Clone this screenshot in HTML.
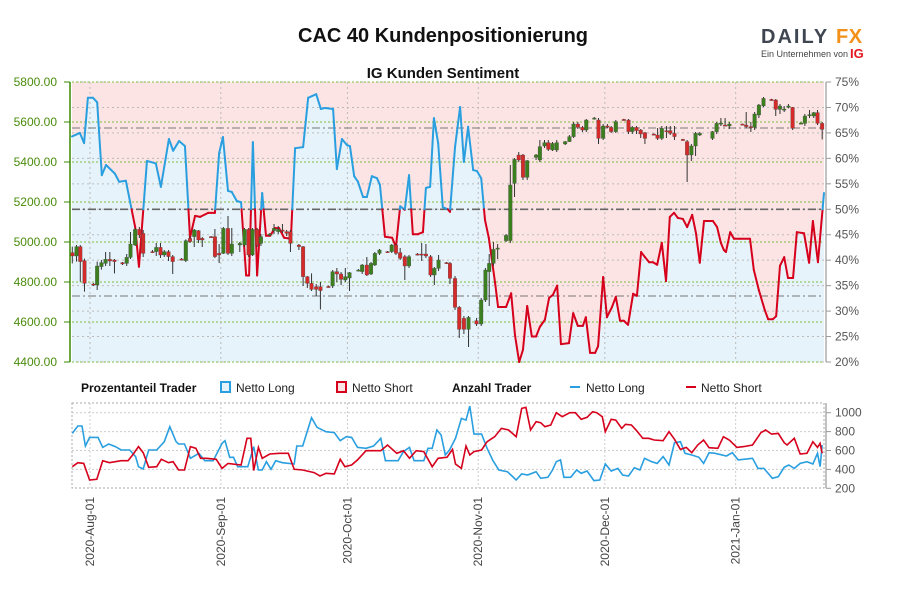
<!DOCTYPE html>
<html><head><meta charset="utf-8"><style>
body{margin:0;background:#fff;}
svg{display:block;font-family:"Liberation Sans",Arial,sans-serif;}
</style></head><body>
<svg id="c" width="900" height="600" viewBox="0 0 900 600" xmlns="http://www.w3.org/2000/svg">
<text x="443" y="42" text-anchor="middle" font-size="20" font-weight="bold" fill="#111">CAC 40 Kundenpositionierung</text>
<text x="443" y="78" text-anchor="middle" font-size="15" font-weight="bold" fill="#111">IG Kunden Sentiment</text>
<g>
<text x="761" y="43" font-size="20" font-weight="bold" fill="#3f4652" letter-spacing="2">DAILY</text>
<text x="836" y="43" font-size="20" font-weight="bold" fill="#f39019" letter-spacing="0.5">FX</text>
<text x="761" y="57" font-size="9" fill="#444">Ein Unternehmen von</text>
<text x="850" y="58" font-size="13" font-weight="bold" fill="#e3171e">IG</text>
</g>
<g id="main"></g>
<g id="legend">
<text x="81" y="392" font-size="12" font-weight="bold" fill="#111">Prozentanteil Trader</text>
<rect x="221" y="382" width="9" height="10" fill="#e6f3fb" stroke="#2a9fe0" stroke-width="2"/>
<text x="236" y="392" font-size="12" fill="#222">Netto Long</text>
<rect x="337" y="382" width="9" height="10" fill="#fce4e4" stroke="#d6001c" stroke-width="2"/>
<text x="352" y="392" font-size="12" fill="#222">Netto Short</text>
<text x="452" y="392" font-size="12" font-weight="bold" fill="#111">Anzahl Trader</text>
<line x1="570" y1="387" x2="580" y2="387" stroke="#2a9fe0" stroke-width="2"/>
<text x="586" y="392" font-size="12" fill="#222">Netto Long</text>
<line x1="686" y1="387" x2="696" y2="387" stroke="#d6001c" stroke-width="2"/>
<text x="701" y="392" font-size="12" fill="#222">Netto Short</text>
</g>
<g id="sub"></g>
</svg>
<script>
// ---- data ----
const monthLabels = ["2020-Aug-01","2020-Sep-01","2020-Oct-01","2020-Nov-01","2020-Dec-01","2021-Jan-01"];
const monthDays = [0,31,61,92,122,153];
const priceTicks = [4400,4600,4800,5000,5200,5400,5600,5800];
const pctTicks = [20,25,30,35,40,45,50,55,60,65,70,75];
const countTicks = [200,400,600,800,1000];
const refPrices = [5570,4730];
const sentDays = [-4.1,-2.4,-1.4,-0.5,0.7,1.7,2.8,3.8,5.9,6.9,8.5,10.7,11.6,13.5,15.6,16.8,18.7,19.7,21.1,22.5,23.7,24.9,26.1,28,29.6,30.6,31.5,32.7,33.6,34.8,35.8,37,37.7,38.6,39.6,40.8,41.7,42.7,43.8,44.8,46,47.6,48.6,50.5,51.7,53.6,54.7,55.7,57.6,58.5,59.7,60.9,61.6,62.6,63.5,64.7,65.6,66.8,68,68.7,69.9,71.6,72.5,73.5,74.6,75.6,76.5,77.7,78.9,79.6,80.6,81.5,82.5,83.6,84.8,85.3,86.5,87.7,88.6,89.6,90.8,91.7,92.7,93.6,94.5,96,96.7,98.6,99.8,100.7,101.7,102.6,103.6,104.7,105.7,106.6,107.8,108.8,109.7,110.7,111.6,113.5,114.5,115.6,116.8,117.5,118.5,119.7,120.4,121.6,122.5,123.7,124.6,125.6,126.5,127.5,128.7,129.6,130.6,131.5,132.5,133.4,134.4,135.5,136.5,137.4,138.4,139.3,140.5,141.5,142.7,143.6,144.5,145.5,146.4,147.6,148.6,149.5,150.2,150.7,151.7,152.6,154,156.4,157.3,158.5,159.9,160.7,161.8,162.6,163.5,164.5,165.4,166.6,167.5,169.2,170.4,171.3,172.5,173.5];
const sentLong = [64.3,65,63,71.9,71.9,71,56.7,58.7,57,55.4,55.6,46.5,38.7,59.5,59,54.4,63.8,61.5,63.4,62.4,44.4,48.7,48.5,49.3,49.3,61,64.2,53.6,53.4,51.6,51.4,37,37,63.2,37,53.2,44.8,44.8,46.3,46.3,44.4,44.2,62,62.2,71.9,72.6,69.7,69.9,69.7,57.9,63.8,62.6,62.4,56.5,55.4,52.4,52.4,56.5,56.1,54.8,44.6,44.4,42.6,50.6,49.9,56.7,45.1,45.1,45.5,54.2,54.4,67.9,63,50.4,50,49.5,62.2,70.1,59.3,66.2,57.7,57.5,56.1,47.9,44.4,35.5,30.8,30.8,33.5,25.3,20,22.4,31,25,25,26.9,28.3,32.6,33.2,35,23.5,23.7,29.6,27.1,27.1,28.8,21.8,21.8,23.1,36.7,28.8,30.8,32.8,28.1,28.1,27.3,33.4,33,41.6,40.6,39.6,39.6,39.1,43.4,35.9,48.5,49.3,48.3,48.1,46.5,48.9,45.3,39.5,47.7,47.7,47.7,46.5,43.4,42,41.6,45.5,44.2,44.2,44.2,38.1,34.1,30.2,28.4,28.4,29,38.9,40.6,36.5,36.5,45.5,45.3,39.5,47.7,39.6,53.2];
const candleDays = [-4.2,-3.2,-2.3,-1.3,0.8,1.7,2.7,3.7,4.7,5.8,7.7,8.7,9.6,10.7,11.7,12.6,14.8,15.7,16.7,17.6,18.6,19.6,21.7,22.7,23.7,24.7,25.7,26.6,28.7,29.6,30.6,31.6,32.7,33.6,35.5,36.6,37.6,38.5,39.6,40.5,42.6,43.6,44.6,45.6,46.6,47.5,49.5,50.5,51.5,52.5,53.6,54.6,56.5,57.5,58.5,59.5,60.5,61.5,63.6,64.5,65.6,66.6,67.5,68.6,70.5,71.5,72.5,73.5,74.6,75.6,77.6,78.6,79.6,80.7,81.6,82.6,84.5,85.3,86.5,87.5,88.6,89.7,91.6,92.7,93.7,94.6,95.6,96.6,98.6,99.6,100.6,101.6,102.6,103.6,105.7,106.6,107.7,108.6,109.6,110.6,112.6,113.6,114.6,115.6,116.7,117.6,119.5,120.5,121.6,122.6,123.5,124.6,126.5,127.6,128.5,129.5,130.5,131.5,133.6,134.5,135.5,136.6,137.5,138.5,140.5,141.5,142.5,143.5,144.5,147.5,148.5,149.5,150.5,151.5,154.6,155.5,156.6,157.5,158.5,159.6,161.5,162.5,163.5,164.5,165.5,166.5,168.5,169.4,170.5,171.5,172.4,173.5];
const candleOpen = [4947,4930,4977,4907,4790,4785,4877,4893,4913,4910,4897,4893,4923,4985,5063,5043,4952,4952,4973,4935,4952,4927,4915,4907,5018,5027,5057,5018,5027,5027,4943,4943,5068,4943,4985,4985,5063,4935,5063,4993,5035,5057,5052,5060,5052,5052,4985,4977,4827,4793,4777,4777,4778,4780,4852,4840,4810,4820,4857,4852,4885,4840,4885,4943,4952,4952,4985,4947,4927,4880,4940,4940,4940,4927,4835,4868,4897,4893,4818,4673,4618,4563,4607,4590,4710,4852,4893,4968,5007,5007,5293,5435,5435,5323,5423,5410,5480,5497,5460,5460,5490,5502,5527,5590,5573,5560,5618,5610,5518,5580,5573,5552,5613,5610,5552,5573,5560,5547,5540,5535,5518,5557,5557,5543,5513,5502,5435,5480,5535,5518,5552,5593,5585,5580,5590,5585,5577,5573,5635,5680,5713,5710,5663,5663,5673,5673,5593,5593,5635,5630,5647,5593];
const candleClose = [4930,4977,4902,4793,4787,4880,4897,4913,4905,4902,4890,4923,4990,5063,5035,4943,4950,4973,4935,4952,4927,4902,4912,5007,5002,5060,5010,5010,5025,4927,4935,5068,4943,4990,4993,5063,4935,5063,4985,5027,5040,5068,5063,5058,5043,4993,4977,4827,4793,4763,4763,4757,4777,4852,4840,4813,4827,4847,4860,4885,4835,4893,4943,4960,4950,4985,4943,4918,4880,4927,4937,4937,4930,4835,4868,4910,4895,4818,4673,4563,4563,4623,4590,4710,4860,4893,4963,4970,5033,5285,5413,5410,5323,5407,5435,5477,5497,5463,5493,5497,5502,5527,5590,5573,5560,5610,5620,5518,5580,5578,5552,5602,5612,5552,5573,5557,5540,5518,5538,5518,5568,5555,5543,5527,5512,5435,5480,5543,5543,5552,5593,5595,5583,5590,5588,5577,5575,5640,5685,5718,5712,5663,5680,5665,5680,5568,5595,5630,5637,5647,5593,5563];
const candleHigh = [4977,4985,4985,4917,4795,4902,4910,4950,4950,4915,4900,4940,5050,5070,5075,5060,4960,4995,4995,4960,4960,4935,4920,5013,5030,5065,5060,5025,5030,5065,4990,5075,5130,5070,5000,5070,5070,5070,5070,5040,5045,5090,5080,5090,5060,5060,4990,4980,4830,4843,4790,4800,4782,4860,4870,4850,4870,4850,4865,4890,4925,4900,4950,4965,4955,4990,4990,4970,4935,4935,4945,4995,4990,4935,4875,4935,4900,4900,4830,4680,4630,4630,4620,4720,4870,4940,5000,4990,5040,5385,5420,5450,5440,5410,5440,5510,5510,5510,5500,5510,5505,5535,5600,5600,5580,5615,5625,5620,5590,5590,5580,5610,5616,5615,5580,5580,5565,5550,5543,5570,5580,5580,5580,5580,5516,5510,5490,5550,5550,5555,5600,5620,5620,5600,5592,5650,5600,5650,5690,5725,5716,5715,5690,5680,5690,5675,5598,5640,5660,5650,5660,5600];
const candleLow = [4893,4902,4802,4752,4780,4760,4862,4880,4880,4843,4885,4880,4915,4980,5020,4925,4946,4930,4920,4925,4905,4840,4908,4900,4995,4975,4995,4975,5021,4920,4895,4940,4935,4930,4950,4975,4925,4930,4975,4980,5030,5040,5040,5045,5030,4950,4960,4780,4770,4755,4730,4663,4772,4770,4800,4785,4800,4755,4853,4840,4830,4835,4880,4935,4946,4945,4935,4910,4810,4870,4933,4905,4920,4825,4785,4855,4891,4790,4660,4520,4540,4475,4580,4580,4700,4680,4880,4915,5000,4995,5225,5400,5310,5310,5410,5400,5470,5455,5455,5450,5485,5500,5520,5565,5550,5550,5612,5490,5510,5570,5545,5545,5608,5540,5540,5540,5520,5490,5534,5510,5510,5520,5535,5510,5508,5300,5405,5430,5530,5510,5540,5580,5580,5565,5584,5570,5550,5560,5620,5675,5706,5630,5640,5650,5668,5560,5589,5580,5620,5620,5585,5513];
const longDays = [-4.2,-2.9,-1.9,-1.1,-0.1,1.9,3,4.4,6,7.4,9.4,10.8,11.5,12.6,13.9,15.8,17.6,18.9,20.4,21,22.4,23.8,25.8,27.2,29.2,31.3,32,33.1,34,35,37.4,38.8,39.9,40.8,41.8,42.9,44,45.6,48.4,49,50.4,52.5,53.8,55.9,57.9,59.3,60.7,62,63.4,65.4,67.2,68.9,70,73,74.3,75.7,76.8,79.1,80.1,81.1,82.2,83.2,84.2,85.2,86.6,88,89.1,90,91,92.8,94.1,95.5,96.9,98.9,101,102.3,103.7,105.7,106.8,108.5,109.6,110.5,111.5,112.3,113.9,115.3,116.4,117.8,119.4,120.8,122.1,123.5,125.1,126.2,127.6,129,130.3,131.4,133.1,134.4,135.8,137.2,138.5,139.9,141,142.6,144.3,145.4,146.7,148.1,150.8,152.2,153.6,154.9,157,158.3,159.7,161.7,163.1,164.5,165.6,166.9,168.3,169.9,171.3,172.4,173,173.5];
const longCount = [781,859,859,648,739,739,633,669,641,605,605,535,429,404,605,605,693,852,693,669,669,517,570,492,492,676,704,528,528,429,429,641,394,394,482,401,492,471,457,648,648,947,845,799,789,704,746,739,633,623,648,729,492,492,588,633,492,492,623,623,817,764,552,605,729,940,922,1070,774,774,623,492,394,376,288,352,341,376,306,316,394,482,500,316,316,394,359,383,281,288,457,383,411,341,330,418,394,517,482,464,535,447,683,693,570,552,528,464,577,570,542,577,500,507,517,411,411,306,323,422,447,411,464,482,457,570,429,658];
const shortDays = [-4.2,-2.9,-1.5,-0.1,1.6,3,4.6,7.4,9,10.1,11.5,12.6,13.9,15.8,16.9,18.6,19.7,21,22.4,23.8,25.1,26.2,27.6,29.9,31.3,32.7,35.8,37.2,38.1,38.8,39.9,40.8,42.6,44.9,47,48.4,50.4,53.1,54.5,55.9,57.9,59.3,60.4,62,63.4,65.4,68.9,70.5,72.7,74.3,75.7,77.3,79.1,81.1,82.5,84.6,85.9,86.6,88,89.1,90,91,92.8,94.1,95.9,97.5,99.2,101,102.3,103.3,104.4,105.7,106.8,107.8,109.2,110.5,111.9,113.7,115,116.4,117.8,119.1,120.1,121.4,122.1,123.5,124.6,126,126.9,128.3,129.6,131,132.4,133.7,135.8,137.2,138.5,139.9,141.3,142.6,144,145.4,146.7,148.8,150.1,151.5,153.3,154.9,157,159,160.1,161.5,163.1,164.5,165.2,166.9,168.3,169.9,171.3,172.4,173,173.5];
const shortCount = [429,471,464,288,295,492,471,492,492,552,641,577,422,429,507,471,482,394,394,641,623,517,517,507,411,464,447,729,729,387,633,517,563,570,570,401,394,366,330,359,352,507,429,447,500,598,598,658,570,598,517,598,588,429,517,528,612,457,411,648,552,588,605,693,746,834,817,746,1046,1056,817,905,894,852,870,1000,958,1000,1000,930,951,1011,1000,958,799,930,922,834,877,870,806,729,729,711,704,799,718,612,633,577,658,711,630,623,746,711,633,641,658,789,817,774,781,683,658,729,563,570,693,633,676,570];

// ---- layout ----
const NS="http://www.w3.org/2000/svg";
const X0=72,X1=824,TOP=82,BOT=362,STOP=403,SBOT=488;
const dx = d => 90 + d*4.22;
const py = v => TOP + (5800 - v)/1400*(BOT-TOP);
const pcy = p => TOP + (75 - p)/55*(BOT-TOP);
const cy = v => 488.3 - (v-200)*0.0945;
function mk(tag, attrs, parent){const e=document.createElementNS(NS,tag);for(const k in attrs)e.setAttribute(k,attrs[k]);parent.appendChild(e);return e;}
const main=document.getElementById('main'), sub=document.getElementById('sub');

let pts = sentDays.map((d,i)=>[dx(d),pcy(sentLong[i])]);
pts[0][0]=X0; pts[pts.length-1][0]=X1;
const lineStr = pts.map(p=>p[0].toFixed(1)+','+p[1].toFixed(1)).join(' ');
let e;
e=mk('rect',{x:X0,y:TOP,width:X1-X0,height:BOT-TOP,fill:'#fce4e4'},main);


e=mk('polygon',{points:X0+','+BOT+' '+lineStr+' '+X1+','+BOT,fill:'#e6f3fb'},main);



pctTicks.forEach(p=>{const g=mk('line',{x1:X0,x2:X1,y1:pcy(p),y2:pcy(p),stroke:'#bbb','stroke-width':1,'stroke-dasharray':'2,3'},main);

});
priceTicks.forEach(v=>{const g=mk('line',{x1:X0,x2:X1,y1:py(v),y2:py(v),stroke:'#7cbf3c','stroke-width':1,'stroke-dasharray':'2,2'},main);

});
monthDays.forEach(d=>{const g=mk('line',{x1:dx(d),x2:dx(d),y1:TOP,y2:BOT,stroke:'#bbb','stroke-width':1,'stroke-dasharray':'2,3'},main);

});
refPrices.forEach(v=>{const g=mk('line',{x1:X0,x2:X1,y1:py(v),y2:py(v),stroke:'#777','stroke-width':1,'stroke-dasharray':'8,3,2,3'},main);

});
e=mk('line',{x1:X0,x2:X1,y1:pcy(50),y2:pcy(50),stroke:'#666','stroke-width':1.6,'stroke-dasharray':'8,3,2,3'},main);


e=mk('line',{x1:X0,x2:X1,y1:TOP,y2:TOP,stroke:'#7cbf3c','stroke-width':1,'stroke-dasharray':'2,2'},main);



const y50=pcy(50);
for(let i=0;i<pts.length-1;i++){
  const [xa,ya]=pts[i],[xb,yb]=pts[i+1];
  const ca=ya<=y50, cb=yb<=y50;
  const segs=[];
  if(ca===cb) segs.push([xa,ya,xb,yb,ca]);
  else {const t=(y50-ya)/(yb-ya);const xm=xa+t*(xb-xa);segs.push([xa,ya,xm,y50,ca]);segs.push([xm,y50,xb,yb,cb]);}
  segs.forEach(s=>{const l=mk('line',{x1:s[0],y1:s[1],x2:s[2],y2:s[3],stroke:s[4]?'#2a9fe0':'#d6001c','stroke-width':2,'stroke-linecap':'round'},main);
  
  });
}

candleDays.forEach((d,i)=>{
  const x=dx(d),o=candleOpen[i],c=candleClose[i];
  const up=c>=o;
  const w=mk('line',{x1:x,x2:x,y1:py(candleHigh[i]),y2:py(candleLow[i]),stroke:'#333','stroke-width':1},main);
  
  
  const t=py(Math.max(o,c)),b=py(Math.min(o,c));
  const r=mk('rect',{x:x-1.8,y:t,width:3.6,height:Math.max(1.2,b-t),fill:up?'#3b7f1e':'#d42a2a',stroke:'#444','stroke-width':0.3},main);
  
  
});

e=mk('line',{x1:70,x2:70,y1:TOP,y2:BOT,stroke:'#3a8a00','stroke-width':1.5},main);


priceTicks.forEach(v=>{
  const tk=mk('line',{x1:64,x2:70,y1:py(v),y2:py(v),stroke:'#3a8a00','stroke-width':1},main);
  
  
  const t=mk('text',{x:57,y:py(v)+4,'text-anchor':'end','font-size':12,fill:'#4a8c0c'},main);
  t.textContent=v.toFixed(2);
  
  
});
e=mk('line',{x1:826,x2:826,y1:TOP,y2:BOT,stroke:'#999','stroke-width':1.2},main);


pctTicks.forEach(p=>{
  const tk=mk('line',{x1:826,x2:831,y1:pcy(p),y2:pcy(p),stroke:'#999','stroke-width':1},main);
  
  
  const t=mk('text',{x:835,y:pcy(p)+4,'font-size':12,fill:'#555'},main);
  t.textContent=p+'%';
  
  
});

e=mk('rect',{x:X0,y:STOP,width:X1-X0,height:SBOT-STOP,fill:'none',stroke:'#aaa','stroke-width':1,'stroke-dasharray':'2,2'},sub);


countTicks.forEach(v=>{
  if(v>200){const g=mk('line',{x1:X0,x2:X1,y1:cy(v),y2:cy(v),stroke:'#ccc','stroke-width':1,'stroke-dasharray':'2,2'},sub);
  
  }
  const tk=mk('line',{x1:826,x2:831,y1:cy(v),y2:cy(v),stroke:'#999','stroke-width':1},sub);
  
  
  const t=mk('text',{x:835,y:cy(v)+4,'font-size':12,fill:'#555'},sub);
  t.textContent=v;
  
  
});
e=mk('line',{x1:826,x2:826,y1:STOP,y2:SBOT,stroke:'#999','stroke-width':1.2},sub);


monthDays.forEach((d,i)=>{
  const g=mk('line',{x1:dx(d),x2:dx(d),y1:STOP,y2:SBOT,stroke:'#ccc','stroke-width':1,'stroke-dasharray':'2,2'},sub);
  
  
  const t=mk('text',{x:0,y:0,'font-size':12,fill:'#444','text-anchor':'end',transform:`translate(${dx(d)+4},497) rotate(-90)`},sub);
  t.textContent=monthLabels[i];
  
  
});
function clampX(x){return Math.min(X1,Math.max(X0,x));}
e=mk('polyline',{points:longDays.map((d,i)=>clampX(dx(d)).toFixed(1)+','+cy(longCount[i]).toFixed(1)).join(' '),fill:'none',stroke:'#2a9fe0','stroke-width':1.6},sub);


e=mk('polyline',{points:shortDays.map((d,i)=>clampX(dx(d)).toFixed(1)+','+cy(shortCount[i]).toFixed(1)).join(' '),fill:'none',stroke:'#d6001c','stroke-width':1.6},sub);


</script>
</body></html>
